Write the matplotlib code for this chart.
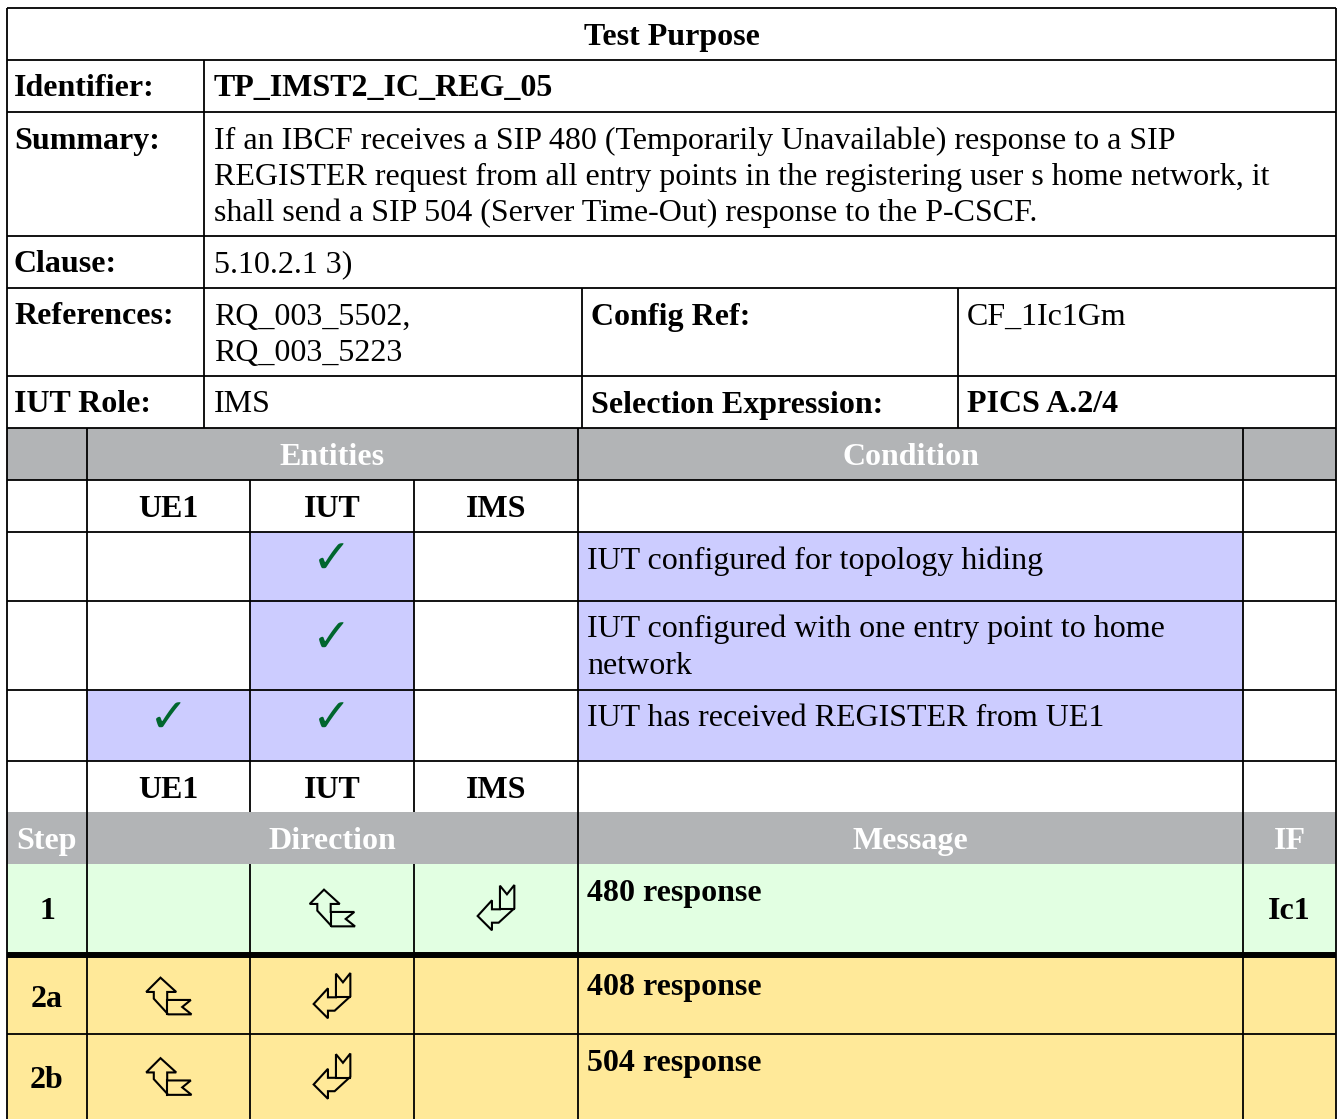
import matplotlib
matplotlib.use("Agg")
import matplotlib.pyplot as plt
from matplotlib.patches import Rectangle, Polygon

# ---- table content ----
title = "Test Purpose"
top_labels = ["Identifier:", "Summary:", "Clause:", "References:", "IUT Role:"]
identifier = "TP_IMST2_IC_REG_05"
summary_lines = [
    "If an IBCF receives a SIP 480 (Temporarily Unavailable) response to a SIP",
    "REGISTER request from all entry points in the registering user s home network, it",
    "shall send a SIP 504 (Server Time-Out) response to the P-CSCF.",
]
clause = "5.10.2.1 3)"
references = ["RQ_003_5502,", "RQ_003_5223"]
config_label = "Config Ref:"
config_ref = "CF_1Ic1Gm"
iut_role = "IMS"
selection_label = "Selection Expression:"
selection_expr = "PICS A.2/4"

entities = ["UE1", "IUT", "IMS"]
conditions = [
    ["IUT configured for topology hiding"],
    ["IUT configured with one entry point to home", "network"],
    ["IUT has received REGISTER from UE1"],
]
condition_checks = [[0, 1, 0], [0, 1, 0], [1, 1, 0]]

steps = ["1", "2a", "2b"]
step_arrows = [[None, "up", "left"], ["up", "left", None], ["up", "left", None]]
messages = ["480 response", "408 response", "504 response"]
interfaces = ["Ic1", "", ""]

# ---- geometry (pixels) ----
W, H = 1341, 1119
X0, X1 = 7, 1336
top_y = [8, 60, 112, 236, 288, 376, 428]
top_cols = [7, 204, 582, 958]
cols = [7, 87, 250, 414, 578, 1243, 1336]
cond_y = [428, 480, 532, 601, 690, 761, 812, 864]
step_y = [864, 955, 1034, 1119]

SERIF = "Liberation Serif"
FS = 23
LW = 1.3
GRAY = "#b2b4b6"
LAV = "#ccccff"
GREEN = "#e2ffe2"
YEL = "#ffe999"
CHECK = "#00662e"

fig = plt.figure(figsize=(W / 100, H / 100), dpi=100)
ax = fig.add_axes([0, 0, 1, 1])
ax.set_xlim(0, W)
ax.set_ylim(H, 0)
ax.axis("off")


def box(x0, y0, x1, y1, color):
    ax.add_patch(Rectangle((x0, y0), x1 - x0, y1 - y0, facecolor=color,
                           edgecolor="none", zorder=1))


def hline(y, x0, x1, lw=LW):
    ax.plot([x0, x1], [y, y], color="black", lw=lw, solid_capstyle="butt", zorder=3)


def vline(x, y0, y1, lw=LW):
    ax.plot([x, x], [y0, y1], color="black", lw=lw, solid_capstyle="butt", zorder=3)


def txt(x, y, s, bold=False, ha="left", color="black"):
    ax.text(x, y, s, fontsize=FS, family=SERIF, weight="bold" if bold else "normal",
            ha=ha, va="baseline", color=color, zorder=4)


def top_text(x, row_top, lines, bold=False, pad=9):
    for i, s in enumerate(lines):
        txt(x + pad, row_top + 36.5 + i * 36.5, s, bold)


def mid_text(cx, y0, y1, s, bold=True, color="black"):
    txt(cx, (y0 + y1) / 2 + 11, s, bold, ha="center", color=color)


# hollow bent arrow glyph, drawn from an outline (w=46, h=37)
ARROW_UP = [(15, 0), (30.7, 14.3), (21.7, 14.3), (21.7, 22.3), (45.3, 22.3), (36.7, 29.3),
            (46, 36.7), (22.7, 36.7), (8.3, 21), (8.3, 14.3), (0.7, 14.3)]
ARROW_UP_INNER = [(21.7, 22.3), (21.7, 36.7)]


def arrow(cx, cy, kind):
    mx, my = 23, 18.35

    def tf(p):
        dx, dy = p[0] - mx, p[1] - my
        if kind == "left":
            dx, dy = dy, -dx
        return (cx + dx, cy + dy)

    ax.add_patch(Polygon([tf(p) for p in ARROW_UP], closed=True, fill=False,
                         edgecolor="black", lw=1.5, joinstyle="miter", zorder=4))
    inner = [tf(p) for p in ARROW_UP_INNER]
    ax.plot([inner[0][0], inner[1][0]], [inner[0][1], inner[1][1]], color="black",
            lw=1.5, zorder=4)


# ---- fills ----
box(X0, cond_y[0], X1, cond_y[1], GRAY)
box(X0, cond_y[6], X1, cond_y[7], GRAY)
for r, checks in enumerate(condition_checks):
    y0, y1 = cond_y[r + 2], cond_y[r + 3]
    for c, on in enumerate(checks):
        if on:
            box(cols[c + 1], y0, cols[c + 2], y1, LAV)
    box(cols[4], y0, cols[5], y1, LAV)
box(X0, step_y[0], X1, step_y[1], GREEN)
box(X0, step_y[1], X1, step_y[3], YEL)

# ---- top section ----
for y in top_y:
    hline(y, X0, X1)
vline(top_cols[1], top_y[1], top_y[6])
for x in top_cols[2:]:
    vline(x, top_y[4], top_y[6])

mid_text((X0 + X1) / 2, top_y[0], top_y[1], title)
for i, lab in enumerate(top_labels):
    top_text(top_cols[0], top_y[i + 1], [lab], bold=True, pad=7)
top_text(top_cols[1], top_y[1], [identifier], bold=True, pad=10)
top_text(top_cols[1], top_y[2], summary_lines, pad=10)
top_text(top_cols[1], top_y[3], [clause], pad=10)
top_text(top_cols[1], top_y[4], references, pad=10)
top_text(top_cols[2], top_y[4], [config_label], bold=True)
top_text(top_cols[3], top_y[4], [config_ref])
top_text(top_cols[1], top_y[5], [iut_role], pad=10)
top_text(top_cols[2], top_y[5], [selection_label], bold=True)
top_text(top_cols[3], top_y[5], [selection_expr], bold=True)

# ---- conditions section ----
mid_text((cols[1] + cols[4]) / 2, cond_y[0], cond_y[1], "Entities", color="white")
mid_text((cols[4] + cols[5]) / 2, cond_y[0], cond_y[1], "Condition", color="white")
for y in cond_y[1:6]:
    hline(y, X0, X1)
for x in [cols[1], cols[4], cols[5]]:
    vline(x, cond_y[0], cond_y[1])
for x in cols[1:6]:
    vline(x, cond_y[1], cond_y[6])
for yr in [1, 5]:
    for c, name in enumerate(entities):
        mid_text((cols[c + 1] + cols[c + 2]) / 2, cond_y[yr], cond_y[yr + 1], name)
for r, lines in enumerate(conditions):
    y0, y1 = cond_y[r + 2], cond_y[r + 3]
    top_text(cols[4], y0, lines)
    for c, on in enumerate(condition_checks[r]):
        if on:
            ax.text((cols[c + 1] + cols[c + 2]) / 2, (y0 + y1) / 2 - 5, "\u2713",
                    family="DejaVu Sans", fontsize=34, color=CHECK,
                    ha="center", va="center", zorder=4)

# ---- steps section ----
hdr = ["Step", "Direction", "Message", "IF"]
hdr_x = [(cols[0] + cols[1]) / 2, (cols[1] + cols[4]) / 2,
         (cols[4] + cols[5]) / 2, (cols[5] + cols[6]) / 2]
for s, x in zip(hdr, hdr_x):
    mid_text(x, cond_y[6], cond_y[7], s, color="white")
for x in [cols[1], cols[4], cols[5]]:
    vline(x, cond_y[6], cond_y[7])
for x in cols[1:6]:
    vline(x, step_y[0], step_y[3])
hline(step_y[1], X0, X1, lw=4.3)
hline(step_y[2], X0, X1)

for r, st in enumerate(steps):
    y0 = step_y[r] + (3 if r == 1 else 0)
    y1 = step_y[r + 1] - (3 if r == 0 else 0)
    mid_text(hdr_x[0], y0, y1, st)
    for c, kind in enumerate(step_arrows[r]):
        if kind:
            arrow((cols[c + 1] + cols[c + 2]) / 2, (y0 + y1) / 2, kind)
    top_text(cols[4], y0, [messages[r]], bold=True)
    if interfaces[r]:
        mid_text(hdr_x[3], y0, y1, interfaces[r])

# outer border
vline(X0, top_y[0], H)
vline(X1, top_y[0], H)

fig.savefig("out.png", dpi=100)
